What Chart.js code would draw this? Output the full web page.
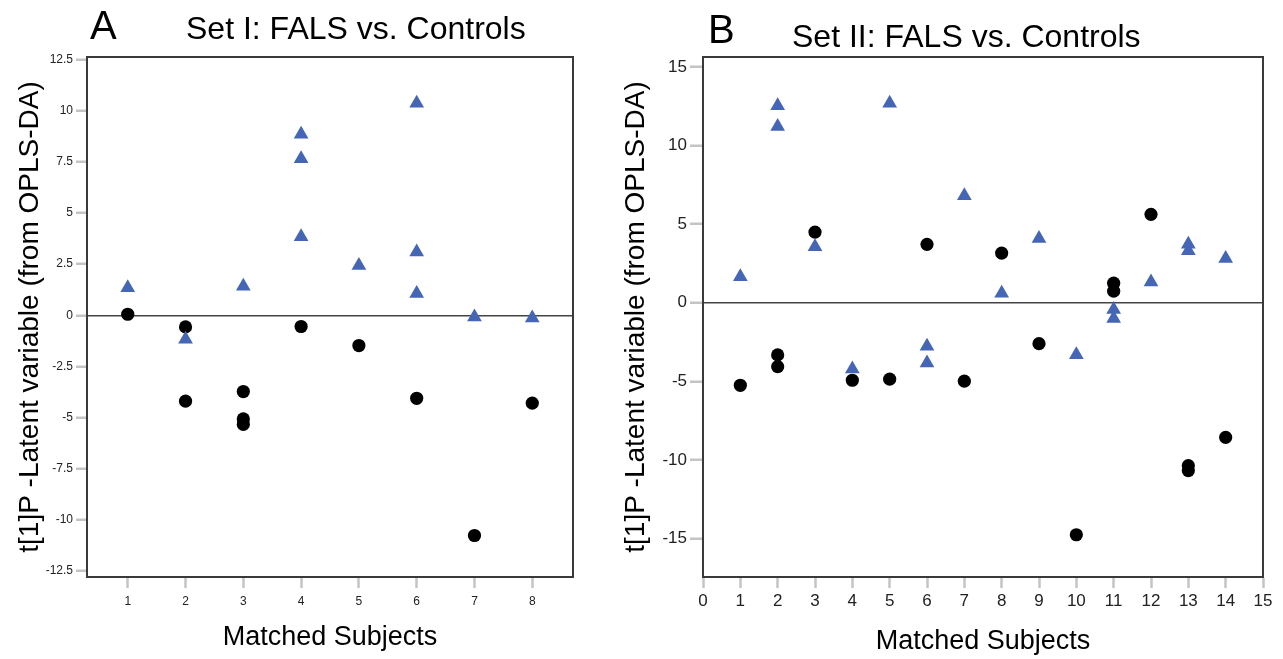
<!DOCTYPE html>
<html>
<head>
<meta charset="utf-8">
<title>FALS vs. Controls</title>
<script src="https://cdn.jsdelivr.net/npm/chart.js@4.4.1/dist/chart.umd.min.js"></script>
<style>
  html, body { margin: 0; padding: 0; background: #fff; }
  #wrap { position: relative; width: 1283px; height: 659px; overflow: hidden; }
  #chartA { position: absolute; left: 0; top: 0; }
  #chartB { position: absolute; left: 600px; top: 0; }
</style>
</head>
<body>
<div id="wrap">
  <canvas id="chartA" width="640" height="659"></canvas>
  <canvas id="chartB" width="683" height="659"></canvas>
</div>
<script>
// Panel A - Set I
var xTicksA = [1, 2, 3, 4, 5, 6, 7, 8];
var yTicksA = [-12.5, -10, -7.5, -5, -2.5, 0, 2.5, 5, 7.5, 10, 12.5];
var triSubjectsA = [1, 2, 3, 4, 4, 4, 5, 6, 6, 6, 7, 8];
var triValuesA = [1.35, -1.17, 1.42, 8.85, 7.66, 3.84, 2.43, 10.37, 3.09, 1.06, -0.08, -0.13];
var dotSubjectsA = [1, 2, 2, 3, 3, 3, 4, 5, 6, 7, 8];
var dotValuesA = [0.05, -0.57, -4.2, -3.73, -5.07, -5.34, -0.55, -1.48, -4.06, -10.77, -4.3];

// Panel B - Set II
var xTicksB = [0, 1, 2, 3, 4, 5, 6, 7, 8, 9, 10, 11, 12, 13, 14, 15];
var yTicksB = [-15, -10, -5, 0, 5, 10, 15];
var triSubjectsB = [1, 2, 2, 3, 4, 5, 6, 6, 7, 8, 9, 10, 11, 11, 12, 13, 13, 14];
var triValuesB = [1.65, 12.54, 11.21, 3.56, -4.21, 12.69, -2.77, -3.83, 6.81, 0.61, 4.09, -3.3, -0.43, -1.0, 1.33, 3.73, 3.31, 2.82];
var dotSubjectsB = [1, 2, 2, 3, 4, 5, 6, 7, 8, 9, 10, 11, 11, 12, 13, 13, 14];
var dotValuesB = [-5.25, -3.32, -4.06, 4.5, -4.93, -4.86, 3.72, -4.99, 3.16, -2.6, -14.76, 1.25, 0.74, 5.63, -10.36, -10.68, -8.56];

var yTitle = 't[1]P -Latent variable (from OPLS-DA)';
var xTitle = 'Matched Subjects';

Chart.defaults.font.family = "'Liberation Sans', Arial, Helvetica, sans-serif";

function toPoints(xs, ys) {
    return xs.map(function(x, i) { return { x: x, y: ys[i] }; });
}

// frame round the plot area + panel letter and heading
var panelDecor = {
    id: 'panelDecor',
    beforeDatasetsDraw: function(chart) {
        var a = chart.chartArea;
        var ctx = chart.ctx;
        ctx.save();
        ctx.strokeStyle = '#3a3a3a';
        ctx.lineWidth = 2;
        ctx.strokeRect(a.left, a.top, a.right - a.left, a.bottom - a.top);
        ctx.restore();
    },
    afterDraw: function(chart, args, opts) {
        var ctx = chart.ctx;
        ctx.save();
        ctx.fillStyle = '#000';
        ctx.textBaseline = 'alphabetic';
        ctx.textAlign = 'left';
        ctx.font = "40px 'Liberation Sans', Arial, sans-serif";
        ctx.fillText(opts.letter, opts.letterX, opts.letterBase);
        ctx.font = "32px 'Liberation Sans', Arial, sans-serif";
        ctx.fillText(opts.title, opts.titleX, opts.titleBase);
        ctx.restore();
    }
};

function makePanel(id, p) {
    return new Chart(document.getElementById(id), {
        type: 'scatter',
        data: {
            datasets: [{
                label: 'FALS',
                data: toPoints(p.triX, p.triY),
                pointStyle: 'triangle',
                pointRadius: 8.5,
                pointHoverRadius: 8.5,
                backgroundColor: '#4565b5',
                borderColor: '#4565b5',
                borderWidth: 0
            }, {
                label: 'Controls',
                data: toPoints(p.dotX, p.dotY),
                pointStyle: 'circle',
                pointRadius: 6.6,
                pointHoverRadius: 6.6,
                backgroundColor: '#000',
                borderColor: '#000',
                borderWidth: 0
            }]
        },
        options: {
            responsive: false,
            animation: false,
            devicePixelRatio: 1,
            layout: { padding: { top: 57, right: p.padRight, bottom: 0, left: 0 } },
            plugins: {
                legend: { display: false },
                tooltip: { enabled: false },
                panelDecor: p.decor
            },
            scales: {
                x: {
                    type: 'linear',
                    min: p.xMin,
                    max: p.xMax,
                    afterBuildTicks: function(axis) {
                        axis.ticks = p.xTicks.map(function(v) { return { value: v }; });
                    },
                    afterFit: function(axis) { axis.height = 82; },
                    ticks: {
                        font: { size: p.tickSizeX },
                        color: '#222',
                        padding: p.tickPadX,
                        maxRotation: 0,
                        autoSkip: false,
                        callback: function(v) { return String(v); }
                    },
                    grid: {
                        drawOnChartArea: false,
                        tickLength: 11,
                        tickWidth: 2.5,
                        tickColor: '#c4c4c4'
                    },
                    border: { display: true, color: '#3a3a3a', width: 2 },
                    title: {
                        display: true,
                        text: xTitle,
                        font: { size: 27 },
                        color: '#000',
                        padding: { top: 0, bottom: p.xTitlePad }
                    }
                },
                y: {
                    type: 'linear',
                    min: p.yMin,
                    max: p.yMax,
                    afterBuildTicks: function(axis) {
                        axis.ticks = p.yTicks.map(function(v) { return { value: v }; });
                    },
                    afterFit: function(axis) { axis.width = p.yWidth; },
                    ticks: {
                        font: { size: p.tickSizeY },
                        color: '#222',
                        padding: 3,
                        autoSkip: false,
                        callback: function(v) { return String(v); }
                    },
                    grid: {
                        // only the zero line is drawn inside the plot
                        color: function(ctx) {
                            return ctx.tick && ctx.tick.value === 0 ? '#444' : 'rgba(0,0,0,0)';
                        },
                        lineWidth: 1.5,
                        tickLength: p.yTickLen,
                        tickWidth: 2.5,
                        tickColor: '#c4c4c4'
                    },
                    border: { display: true, color: '#3a3a3a', width: 2 },
                    title: {
                        display: true,
                        text: yTitle,
                        font: { size: 28 },
                        color: '#000',
                        padding: { top: p.yTitlePad, bottom: 0 }
                    }
                }
            }
        },
        plugins: [panelDecor]
    });
}

document.addEventListener('DOMContentLoaded', function() {
    makePanel('chartA', {
        triX: triSubjectsA, triY: triValuesA,
        dotX: dotSubjectsA, dotY: dotValuesA,
        xTicks: xTicksA, yTicks: yTicksA,
        xMin: 0.295, xMax: 8.705, yMin: -12.8, yMax: 12.63,
        padRight: 67, yWidth: 87, yTickLen: 11,
        tickSizeX: 12, tickSizeY: 12, tickPadX: 6,
        xTitlePad: 5, yTitlePad: 13,
        decor: { letter: 'A', letterX: 90, letterBase: 39, title: 'Set I: FALS vs. Controls', titleX: 186, titleBase: 39 }
    });

    makePanel('chartB', {
        triX: triSubjectsB, triY: triValuesB,
        dotX: dotSubjectsB, dotY: dotValuesB,
        xTicks: xTicksB, yTicks: yTicksB,
        xMin: 0, xMax: 15, yMin: -17.45, yMax: 15.64,
        padRight: 20, yWidth: 103, yTickLen: 13,
        tickSizeX: 17, tickSizeY: 17, tickPadX: 3,
        xTitlePad: 1, yTitlePad: 19,
        decor: { letter: 'B', letterX: 108, letterBase: 43, title: 'Set II: FALS vs. Controls', titleX: 192, titleBase: 47 }
    });
});
</script>
</body>
</html>
